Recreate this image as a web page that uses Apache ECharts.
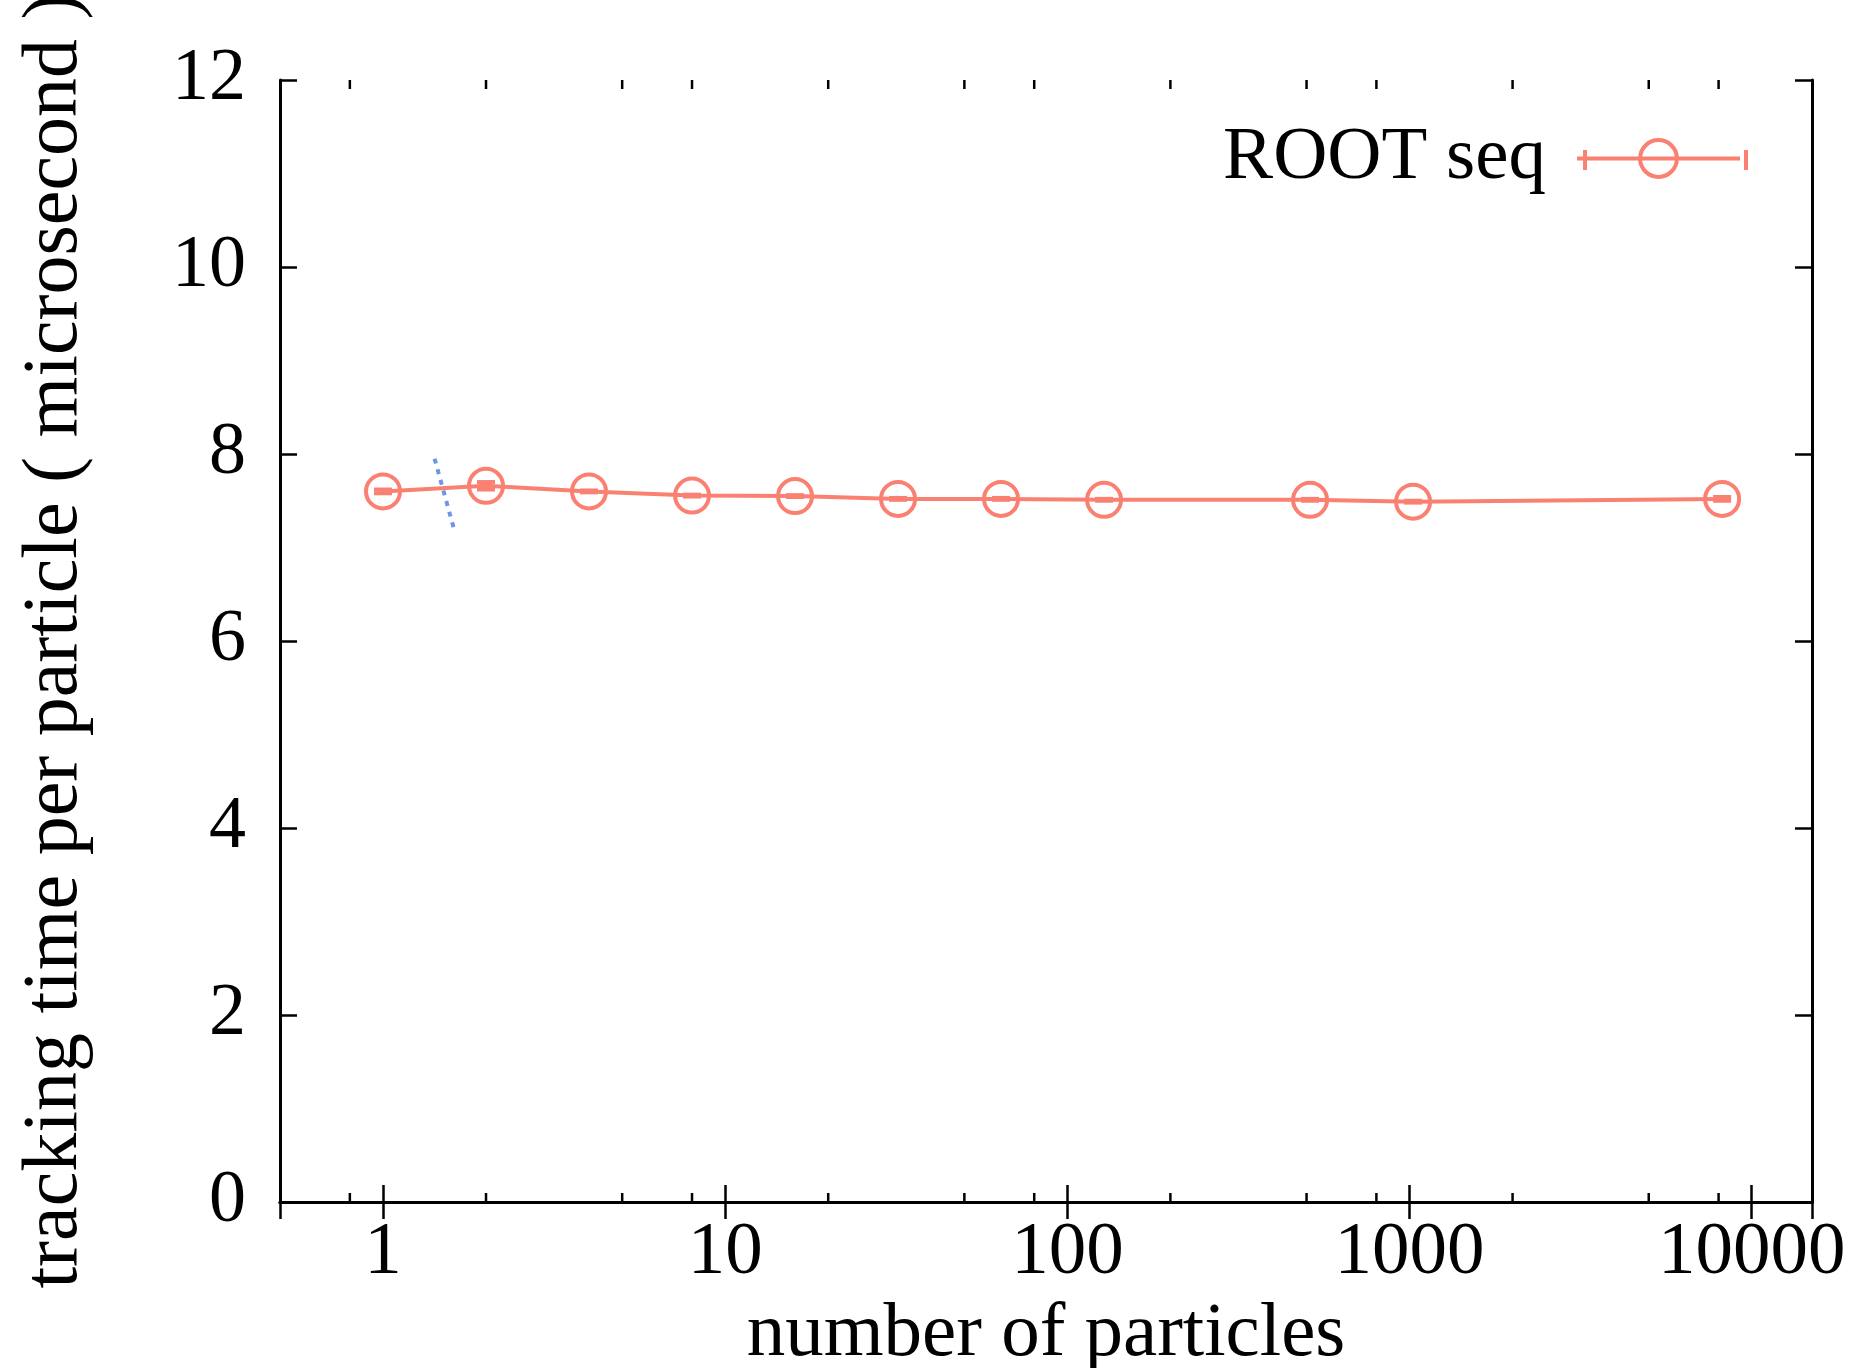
<!DOCTYPE html>
<html>
<head>
<meta charset="UTF-8">
<script src="https://cdn.jsdelivr.net/npm/echarts@6/dist/echarts.min.js"></script>
<style>
  html, body { margin: 0; background: #fff; }
  #chart { width: 1853px; height: 1368px; }
</style>
</head>
<body>
<div id="chart"></div>
<script>
var particles = [1, 2, 4, 8, 16, 32, 64, 128, 512, 1024, 8192];
var trackTime = [7.60, 7.66, 7.60, 7.555, 7.55, 7.52, 7.52, 7.51, 7.51, 7.49, 7.52];
var trackErr  = [0.02, 0.04, 0.01, 0.01, 0.01, 0.01, 0.01, 0.01, 0.01, 0.01, 0.02];
// stray dotted segment near x=1.5
var blueX = [1.415, 1.62];
var blueY = [7.95, 7.17];
// minor ticks on the log axis
var xMinorTicks = [0.8, 2, 5, 8, 20, 50, 80, 200, 500, 800, 2000, 5000, 8000];

var font = '"Liberation Serif", "Times New Roman", serif';
var salmon = '#fa8072';
var axisLine = { show: true, lineStyle: { color: '#000', width: 3 } };
var majorTick = { show: true, inside: true, length: 17, lineStyle: { color: '#000', width: 2.5 } };

var chart = echarts.init(document.getElementById('chart'));

var option = {
  backgroundColor: '#fff',
  animation: false,
  grid: { left: 280, right: 41, top: 80, bottom: 166, outerBoundsMode: 'none' },
  legend: {
    data: ['ROOT seq'],
    right: 106,
    top: 116,
    align: 'right',
    itemWidth: 163,
    itemHeight: 46,
    itemStyle: { color: 'rgba(255,255,255,0)', borderColor: salmon, borderWidth: 4 },
    lineStyle: { color: salmon, width: 4 },
    textStyle: { fontSize: 75, fontFamily: font, color: '#000', padding: [0, 26, 0, 0] }
  },
  xAxis: [
    {
      type: 'log', logBase: 10, min: 0.5, max: 15000, position: 'bottom',
      name: 'number of particles', nameLocation: 'middle', nameGap: 92,
      nameTextStyle: { fontSize: 77, fontFamily: font, color: '#000' },
      axisLine: axisLine, axisTick: majorTick, splitLine: { show: false },
      axisLabel: {
        fontSize: 75, fontFamily: font, color: '#000', margin: 14,
        showMinLabel: false, showMaxLabel: false,
        formatter: function (v) { return String(Math.round(v)); }
      }
    },
    {
      type: 'log', logBase: 10, min: 0.5, max: 15000, position: 'top',
      axisLine: axisLine, axisTick: majorTick, splitLine: { show: false },
      axisLabel: { show: false }
    }
  ],
  yAxis: [
    {
      type: 'value', min: 0, max: 12, interval: 2, position: 'left',
      name: 'tracking time per particle ( microsecond )', nameLocation: 'middle', nameGap: 185,
      nameTextStyle: { fontSize: 78, fontFamily: font, color: '#000' },
      axisLine: axisLine, axisTick: majorTick, splitLine: { show: false },
      axisLabel: { fontSize: 74, fontFamily: font, color: '#000', margin: 34 }
    },
    {
      type: 'value', min: 0, max: 12, interval: 2, position: 'right',
      axisLine: axisLine, axisTick: majorTick, splitLine: { show: false },
      axisLabel: { show: false }
    }
  ],
  series: [
    {
      name: 'ROOT seq',
      type: 'line',
      data: particles.map(function (x, i) { return [x, trackTime[i]]; }),
      symbol: 'circle',
      symbolSize: 34,
      showAllSymbol: true,
      lineStyle: { color: salmon, width: 4 },
      itemStyle: { color: 'rgba(255,255,255,0)', borderColor: salmon, borderWidth: 4 },
      z: 3
    },
    {
      name: 'err',
      type: 'custom',
      data: particles.map(function (x, i) { return [x, trackTime[i], trackErr[i]]; }),
      encode: { x: 0, y: 1 },
      z: 4,
      silent: true,
      renderItem: function (params, api) {
        var x = api.value(0), y = api.value(1), e = api.value(2);
        var lo = api.coord([x, y - e]);
        var hi = api.coord([x, y + e]);
        var w = 9;
        var st = { stroke: salmon, lineWidth: 4 };
        return {
          type: 'group',
          children: [
            { type: 'line', shape: { x1: lo[0], y1: lo[1], x2: hi[0], y2: hi[1] }, style: st },
            { type: 'line', shape: { x1: lo[0] - w, y1: lo[1], x2: lo[0] + w, y2: lo[1] }, style: st },
            { type: 'line', shape: { x1: hi[0] - w, y1: hi[1], x2: hi[0] + w, y2: hi[1] }, style: st }
          ]
        };
      }
    },
    {
      name: 'blue',
      type: 'line',
      data: blueX.map(function (x, i) { return [x, blueY[i]]; }),
      symbol: 'none',
      silent: true,
      lineStyle: { color: '#6f96e6', width: 4, type: [5, 6] },
      z: 2
    },
    {
      name: 'minor',
      type: 'custom',
      data: xMinorTicks.map(function (v) { return [v, 0]; }),
      encode: { x: 0, y: 1 },
      silent: true,
      clip: false,
      renderItem: function (params, api) {
        var v = api.value(0);
        var b = api.coord([v, 0]);
        var t = api.coord([v, 12]);
        var st = { stroke: '#000', lineWidth: 2.5 };
        return {
          type: 'group',
          children: [
            { type: 'line', shape: { x1: b[0], y1: b[1], x2: b[0], y2: b[1] - 9 }, style: st },
            { type: 'line', shape: { x1: t[0], y1: t[1], x2: t[0], y2: t[1] + 9 }, style: st }
          ]
        };
      }
    }
  ],
  graphic: [
    { type: 'line', shape: { x1: 1585, y1: 150, x2: 1585, y2: 170 }, style: { stroke: salmon, lineWidth: 4 } },
    { type: 'line', shape: { x1: 1746, y1: 150, x2: 1746, y2: 170 }, style: { stroke: salmon, lineWidth: 4 } }
  ]
};

chart.setOption(option);
</script>
</body>
</html>
